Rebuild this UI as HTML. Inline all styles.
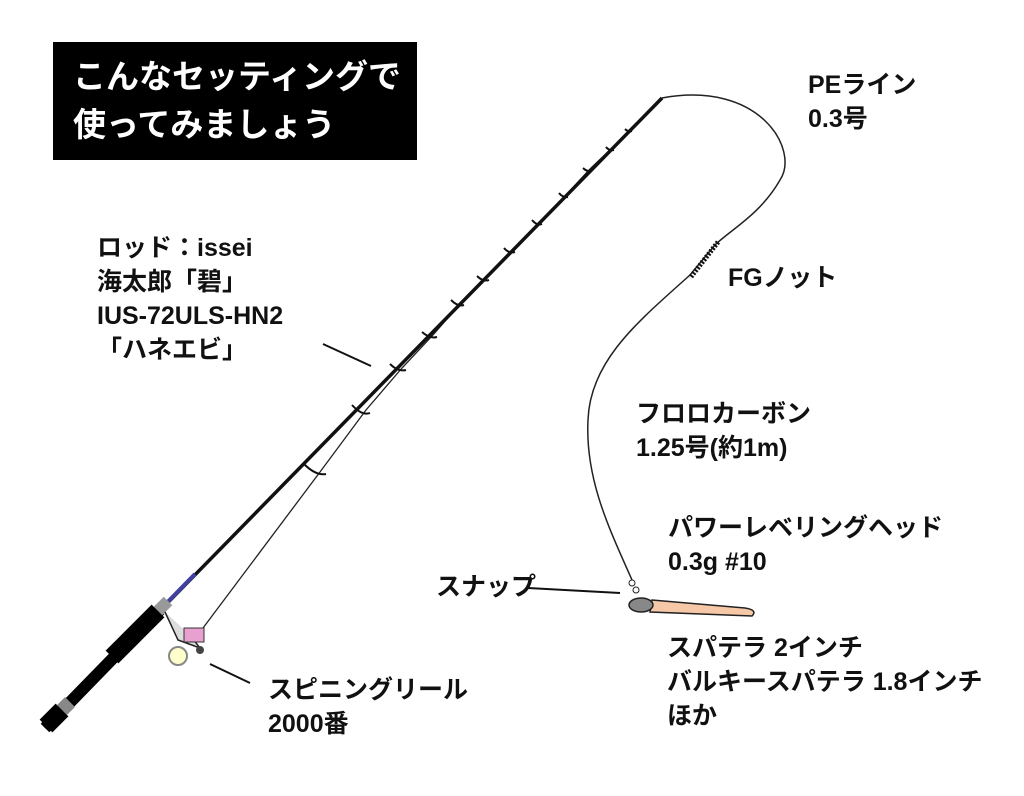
<!DOCTYPE html>
<html><head><meta charset="utf-8"><style>
body{margin:0;background:#fff;width:1024px;height:796px;overflow:hidden;position:relative;font-family:"Liberation Sans","Noto Sans CJK JP",sans-serif;font-weight:bold;color:#111}
.t{position:absolute;font-size:25px;line-height:34px;white-space:nowrap}
#title{position:absolute;left:53px;top:42px;width:364px;height:118px;background:#000;color:#fff;font-size:33px;line-height:48px;padding:11px 0 0 20px;box-sizing:border-box}
svg{position:absolute;left:0;top:0}
</style></head><body>
<svg width="1024" height="796">
<path d="M200,632 L320,472 L366,410 L402,368 L433,335 L461,303 L486,278 L512,250 L540,222 L566,195 L590,169 L612,148 L630,130 L645,115 L662,98" fill="none" stroke="#222" stroke-width="1.3"/>
<line x1="45" y1="728" x2="662" y2="98" stroke="#111" stroke-width="3.5"/>
<line x1="150" y1="620" x2="195" y2="574" stroke="#4040a0" stroke-width="4"/>
<line x1="45" y1="728" x2="160" y2="610" stroke="#000" stroke-width="12"/>
<line x1="46" y1="726" x2="62" y2="710" stroke="#000" stroke-width="18"/>
<line x1="62" y1="710" x2="70" y2="702" stroke="#888" stroke-width="14"/>
<line x1="112" y1="657" x2="158" y2="611" stroke="#000" stroke-width="18"/>
<line x1="158" y1="611" x2="168" y2="601" stroke="#999" stroke-width="12"/>
<g stroke="#111" stroke-width="2" fill="none">
<path d="M304,464 Q316,476 326,474"/><path d="M352,405 Q362,416 370,413"/>
<path d="M390,364 Q398,372 406,370"/><path d="M422,332 Q430,339 437,337"/>
<path d="M451,300 Q458,307 464,305"/><path d="M477,276 Q483,282 489,280"/>
<path d="M504,248 Q509,254 515,252"/><path d="M532,220 Q537,226 542,224"/>
<path d="M559,193 Q563,198 568,197"/><path d="M583,168 Q587,172 592,171"/>
<path d="M606,147 Q609,151 614,150"/><path d="M625,129 Q628,132 632,131"/>
</g>
<path d="M165,612 L178,640 L200,648 L190,635" fill="#ddd" stroke="#222" stroke-width="1.5"/>
<circle cx="178" cy="656" r="9" fill="#ffffcc" stroke="#888" stroke-width="2"/>
<rect x="184" y="628" width="20" height="14" fill="#e8a0d0" stroke="#333"/>
<circle cx="200" cy="650" r="4" fill="#444"/>
<path d="M662,98 C760,80 800,150 780,180 C760,215 730,230 715,245 L690,275 C640,320 590,360 588,420 C585,480 610,530 632,580" fill="none" stroke="#222" stroke-width="1.5"/>
<path d="M718,242 L690,278" stroke="#111" stroke-width="5" stroke-dasharray="2,1.5"/>
<circle cx="632" cy="583" r="3" fill="none" stroke="#222"/>
<circle cx="636" cy="590" r="3" fill="none" stroke="#222"/>
<path d="M652,600 L745,608 Q758,610 752,616 L650,612 Z" fill="#f6c8a8" stroke="#222" stroke-width="1.5"/>
<ellipse cx="641" cy="605" rx="12" ry="7" fill="#888" stroke="#222" stroke-width="1.5"/>
<g stroke="#111" stroke-width="2">
<line x1="323" y1="344" x2="371" y2="366"/>
<line x1="528" y1="588" x2="620" y2="593"/>
<line x1="210" y1="664" x2="250" y2="683"/>
</g>
</svg>
<div id="title">こんなセッティングで<br>使ってみましょう</div>
<div class="t" style="left:808px;top:68px">PEライン<br>0.3号</div>
<div class="t" style="left:97px;top:231px">ロッド：issei<br>海太郎「碧」<br>IUS-72ULS-HN2<br>「ハネエビ」</div>
<div class="t" style="left:728px;top:261px">FGノット</div>
<div class="t" style="left:636px;top:397px">フロロカーボン<br>1.25号(約1m)</div>
<div class="t" style="left:668px;top:511px">パワーレベリングヘッド<br>0.3g #10</div>
<div class="t" style="left:436px;top:570px">スナップ</div>
<div class="t" style="left:667px;top:631px">スパテラ 2インチ<br>バルキースパテラ 1.8インチ<br>ほか</div>
<div class="t" style="left:268px;top:673px">スピニングリール<br>2000番</div>
</body></html>
